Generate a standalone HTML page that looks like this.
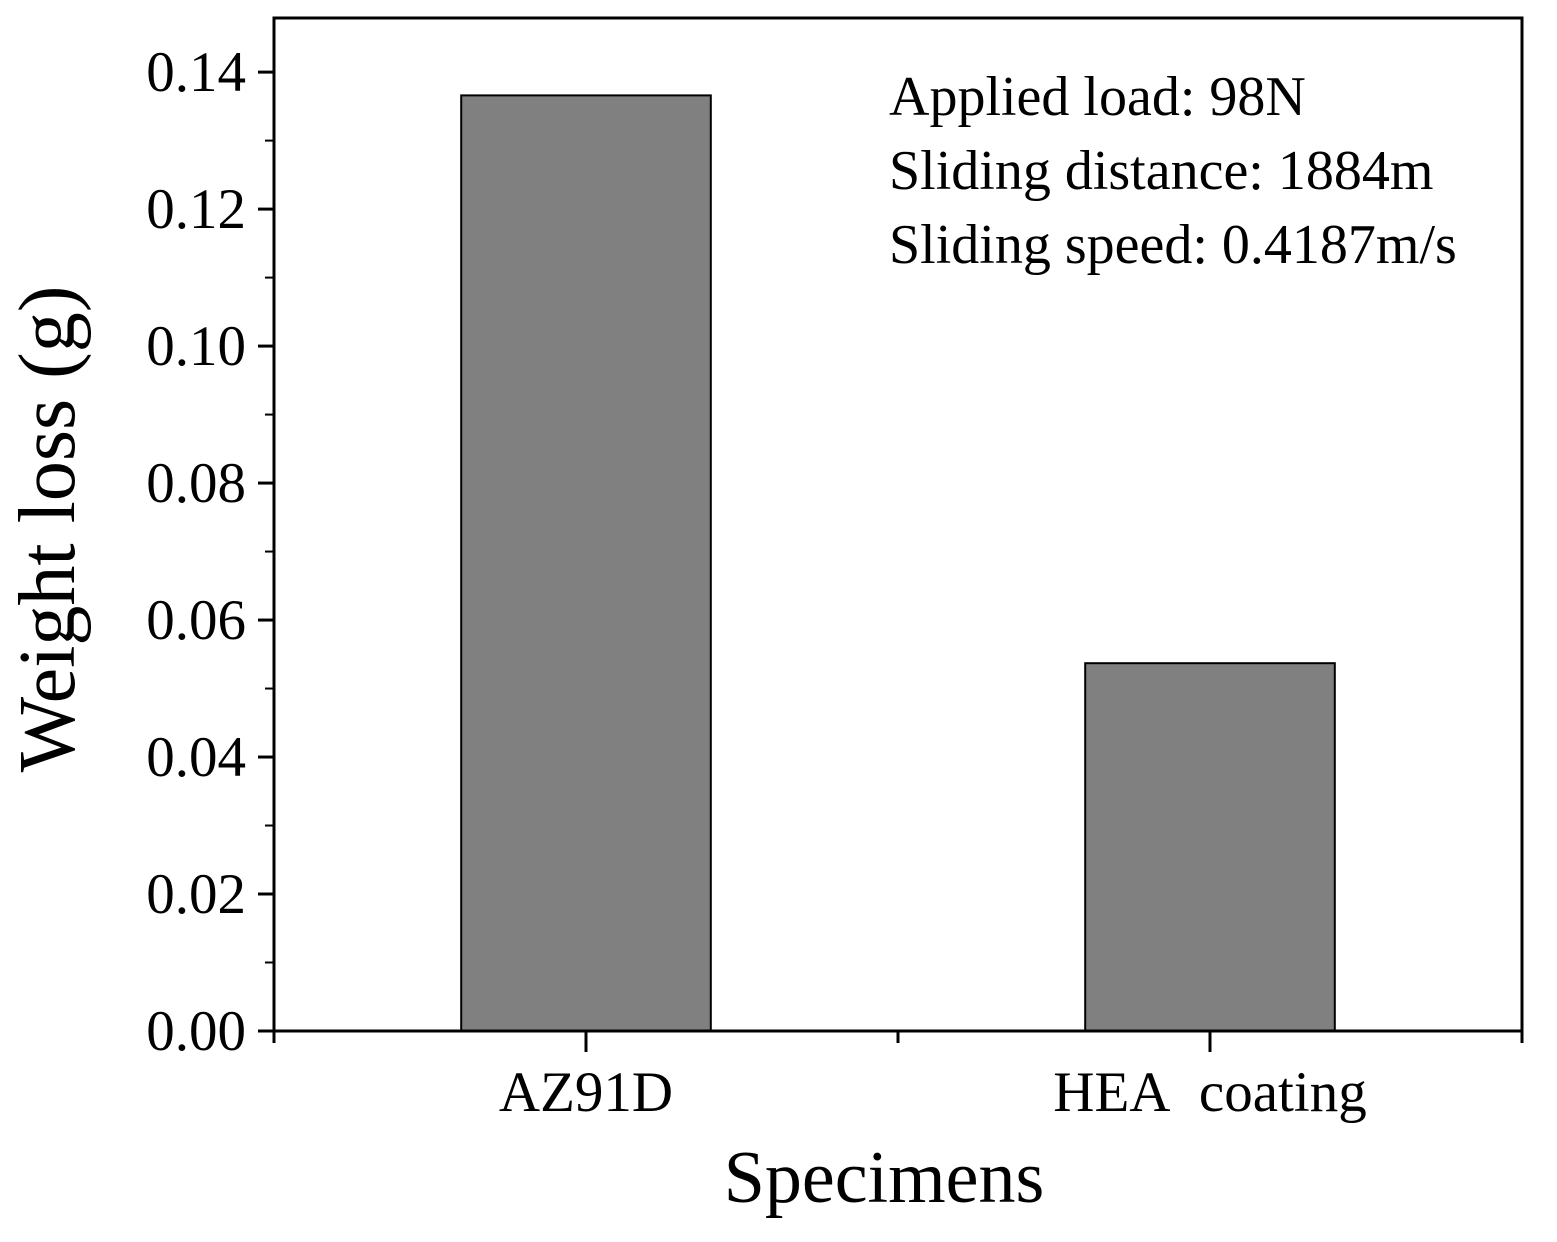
<!DOCTYPE html>
<html><head><meta charset="utf-8"><style>
html,body{margin:0;padding:0;background:#fff;}
svg{display:block;font-family:"Liberation Serif","Times New Roman",serif;}
</style></head><body>
<svg id="chart" width="1557" height="1242" viewBox="0 0 1557 1242" xmlns="http://www.w3.org/2000/svg">
<g id="bars"></g>
<g id="axes"></g>
<rect x="274" y="18" width="1248" height="1013" fill="none" stroke="#000" stroke-width="3"/>
<text transform="translate(74,529) rotate(-90)" text-anchor="middle" font-size="80">Weight loss (g)</text>
<text x="884" y="1202" text-anchor="middle" font-size="74">Specimens</text>
<g font-size="56">
<text x="889" y="115">Applied load: 98N</text>
<text x="889" y="189">Sliding distance: 1884m</text>
<text x="889" y="263">Sliding speed: 0.4187m/s</text>
</g>
</svg>
<script>
const categories = ["AZ91D", "HEA\u00a0\u00a0coating"];
const weightLoss = [0.1366, 0.0537];
const yTicks = [0, 0.02, 0.04, 0.06, 0.08, 0.10, 0.12, 0.14];
const yTickLabels = ["0.00","0.02","0.04","0.06","0.08","0.10","0.12","0.14"];

const NS = "http://www.w3.org/2000/svg";
const L = 274, R = 1522, T = 18, B = 1031, yMax = 0.1479;
function y(v){ return B - (v / yMax) * (B - T); }
function x(i){ return L + (R - L) * (i + 0.5) / categories.length; }
const bw = (R - L) * 0.2;
function mk(tag, attrs, parent){ const e = document.createElementNS(NS, tag); for (const k in attrs) e.setAttribute(k, attrs[k]); parent.appendChild(e); return e; }
const barsG = document.getElementById('bars');
const axG = document.getElementById('axes');
weightLoss.forEach((v, i) => {
  const r = mk('rect', {x: x(i) - bw/2, y: y(v), width: bw, height: B - y(v), fill: '#808080', stroke: '#000', 'stroke-width': 2}, barsG);
  
  
  const t = mk('text', {x: x(i), y: 1111, 'text-anchor': 'middle', 'font-size': 57}, axG);
  t.textContent = categories[i];
  
  
  const tk = mk('line', {x1: x(i), x2: x(i), y1: B, y2: 1052, stroke: '#000', 'stroke-width': 3}, axG);
  
  
});
for (let i = 0; i <= categories.length; i++) {
  const xx = L + (R - L) * i / categories.length;
  const tk = mk('line', {x1: xx, x2: xx, y1: B, y2: 1043, stroke: '#000', 'stroke-width': 3}, axG);
  
  
}
yTicks.forEach((v, i) => {
  const tk = mk('line', {x1: 258, x2: L, y1: y(v), y2: y(v), stroke: '#000', 'stroke-width': 3}, axG);
  
  
  const mv = v + 0.01;
  if (mv < yMax) {
    const m = mk('line', {x1: 265, x2: L, y1: y(mv), y2: y(mv), stroke: '#000', 'stroke-width': 2}, axG);
    
    
  }
  const t = mk('text', {x: 246, y: y(v) + 19, 'text-anchor': 'end', 'font-size': 57}, axG);
  t.textContent = yTickLabels[i];
  
  
});
</script>
</body></html>
